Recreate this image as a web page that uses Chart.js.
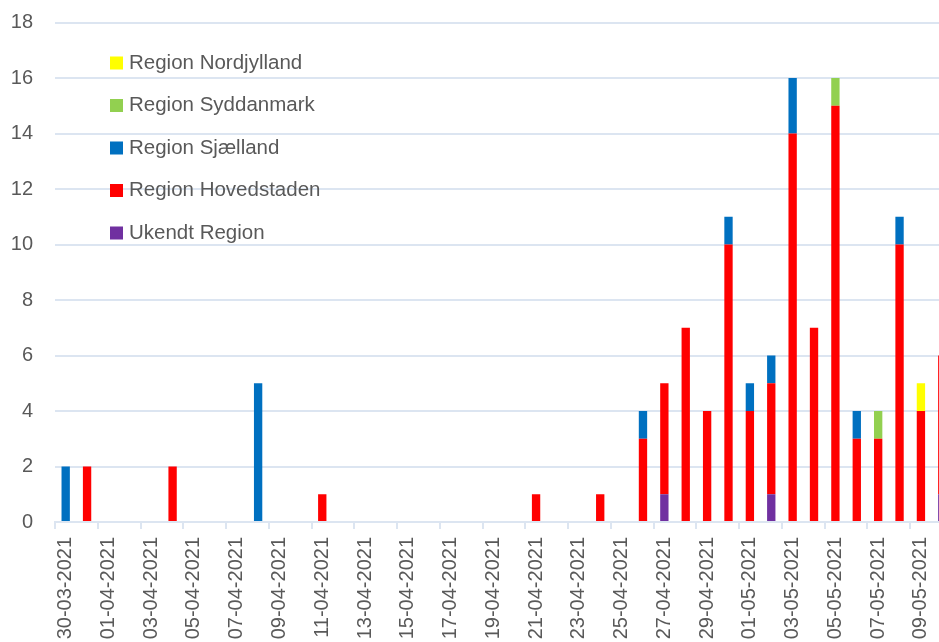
<!DOCTYPE html>
<html>
<head>
<meta charset="utf-8">
<script src="https://cdn.jsdelivr.net/npm/chart.js@4/dist/chart.umd.min.js"></script>
<style>
  html, body { margin: 0; padding: 0; overflow: hidden; background: #fff; }
  canvas { display: block; }
</style>
</head>
<body>
<canvas id="chart" width="962" height="661"></canvas>
<script>
const dates = [
  '30-03-2021', '31-03-2021',
  '01-04-2021', '02-04-2021', '03-04-2021', '04-04-2021', '05-04-2021', '06-04-2021', '07-04-2021', '08-04-2021', '09-04-2021', '10-04-2021',
  '11-04-2021', '12-04-2021', '13-04-2021', '14-04-2021', '15-04-2021', '16-04-2021', '17-04-2021', '18-04-2021', '19-04-2021', '20-04-2021',
  '21-04-2021', '22-04-2021', '23-04-2021', '24-04-2021', '25-04-2021', '26-04-2021', '27-04-2021', '28-04-2021', '29-04-2021', '30-04-2021',
  '01-05-2021', '02-05-2021', '03-05-2021', '04-05-2021', '05-05-2021', '06-05-2021', '07-05-2021', '08-05-2021', '09-05-2021', '10-05-2021'
];

const ukendt      = [0,0,0,0,0,0,0,0,0,0, 0,0,0,0,0,0,0,0,0,0, 0,0,0,0,0,0,0,0,1,0, 0,0,0,1,0,0,0,0,0,0, 0,1];
const hovedstaden = [0,2,0,0,0,2,0,0,0,0, 0,0,1,0,0,0,0,0,0,0, 0,0,1,0,0,1,0,3,4,7, 4,10,4,4,14,7,15,3,3,10, 4,5];
const sjaelland   = [2,0,0,0,0,0,0,0,0,5, 0,0,0,0,0,0,0,0,0,0, 0,0,0,0,0,0,0,1,0,0, 0,1,1,1,2,0,0,1,0,1, 0,0];
const syddanmark  = [0,0,0,0,0,0,0,0,0,0, 0,0,0,0,0,0,0,0,0,0, 0,0,0,0,0,0,0,0,0,0, 0,0,0,0,0,0,1,0,1,0, 0,0];
const nordjylland = [0,0,0,0,0,0,0,0,0,0, 0,0,0,0,0,0,0,0,0,0, 0,0,0,0,0,0,0,0,0,0, 0,0,0,0,0,0,0,0,0,0, 1,0];

const yTicks = [0, 2, 4, 6, 8, 10, 12, 14, 16, 18];

const FONT = 'Liberation Sans';
const TEXT = '#595959';
const GRID = '#dce5f1';

// legend drawn inside the plot, top-left, top series first
const insideLegend = {
  id: 'insideLegend',
  afterDraw(chart) {
    const { ctx, chartArea } = chart;
    const x = chartArea.left + 55;
    let y = chartArea.top + 40.5;
    ctx.save();
    ctx.font = '20.5px "' + FONT + '"';
    ctx.textBaseline = 'middle';
    ctx.textAlign = 'left';
    chart.data.datasets.slice().reverse().forEach(ds => {
      ctx.fillStyle = ds.backgroundColor;
      ctx.fillRect(x, y - 6.5, 13, 13);
      ctx.fillStyle = TEXT;
      ctx.fillText(ds.label, x + 19, y);
      y += 42.5;
    });
    ctx.restore();
  }
};

new Chart(document.getElementById('chart'), {
  type: 'bar',
  data: {
    labels: dates,
    datasets: [
      { label: 'Ukendt Region', data: ukendt, backgroundColor: '#7030a0' },
      { label: 'Region Hovedstaden', data: hovedstaden, backgroundColor: '#ff0000' },
      { label: 'Region Sjælland', data: sjaelland, backgroundColor: '#0070c0' },
      { label: 'Region Syddanmark', data: syddanmark, backgroundColor: '#92d050' },
      { label: 'Region Nordjylland', data: nordjylland, backgroundColor: '#ffff00' }
    ]
  },
  options: {
    responsive: false,
    animation: false,
    layout: { padding: { top: 22.5, right: 9, left: 0, bottom: 0 } },
    datasets: { bar: { categoryPercentage: 1, barPercentage: 0.39 } },
    plugins: { legend: { display: false }, tooltip: { enabled: false } },
    scales: {
      x: {
        stacked: true,
        afterFit: s => { s.height = 139; s.paddingLeft = 0; s.paddingRight = 0; },
        grid: {
          offset: true,
          drawOnChartArea: false,
          tickLength: 7,
          lineWidth: 2,
          color: c => (c.index % 2 === 0 ? GRID : 'rgba(0,0,0,0)')
        },
        border: { color: GRID, width: 2 },
        ticks: {
          autoSkip: false,
          minRotation: 90,
          maxRotation: 90,
          padding: 8,
          color: TEXT,
          font: { family: FONT, size: 20 },
          callback: (v, i) => (i % 2 === 0 ? dates[i] : '')
        }
      },
      y: {
        stacked: true,
        min: 0,
        max: 18,
        afterFit: s => { s.width = 55; s.paddingTop = 0; s.paddingBottom = 0; },
        afterBuildTicks: s => { s.ticks = yTicks.map(v => ({ value: v })); },
        grid: { color: GRID, lineWidth: 2, drawTicks: false },
        border: { display: false },
        ticks: {
          padding: 22,
          color: TEXT,
          font: { family: FONT, size: 20 }
        }
      }
    }
  },
  plugins: [insideLegend]
});
</script>
</body>
</html>
